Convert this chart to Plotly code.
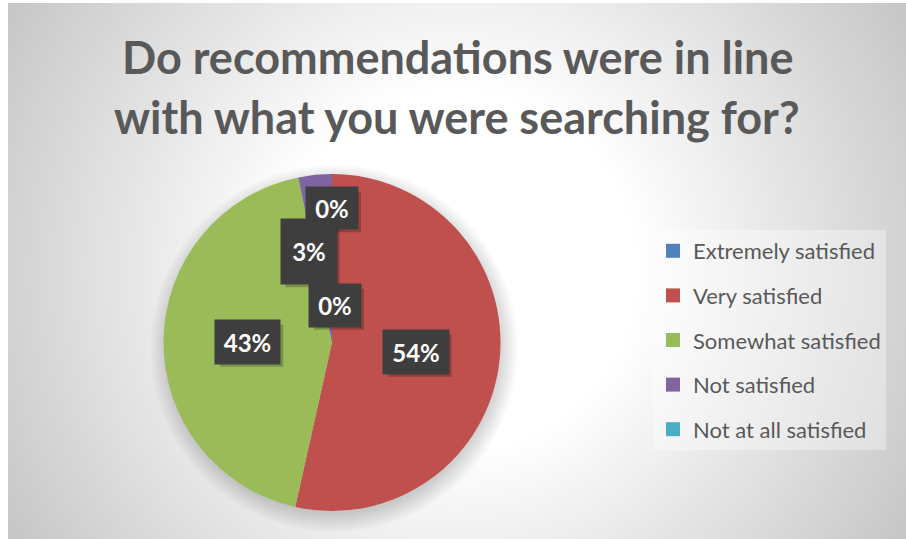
import math
import plotly.graph_objects as go

# ---- data ----
categories = ["Extremely satisfied", "Very satisfied", "Somewhat satisfied",
              "Not satisfied", "Not at all satisfied"]
values = [0, 53.5, 43.3, 3.2, 0]
colors = ["#4F81BD", "#C0504D", "#9BBB59", "#8064A2", "#4BACC6"]
title_lines = ["Do recommendations were in line", "with what you were searching for?"]

# ---- layout constants (pixels) ----
W, H = 906, 539
AX0, AY0 = 8, 3                 # chart-area top-left
PCX, PCY, PR = 332, 342.5, 168.5  # pie centre / radius
# label box styling: (width, height, xshift, yshift)
label_style = [(50, 40, 0, 50), (64, 42, 0, 0), (63, 42, 0, 0),
               (54, 63, -15, 7), (50, 41, 3, -47)]

fig = go.Figure()

# radial gradient background (circle, clipped to chart area)
cxb, cyb = (AX0 + W) / 2, (AY0 + H) / 2
R = 540
fig.add_trace(go.Scatter(
    x=[cxb - R, cxb + R, cxb + R, cxb - R, cxb - R],
    y=[cyb - R, cyb - R, cyb + R, cyb + R, cyb - R],
    fill="toself", mode="none", hoverinfo="skip", showlegend=False,
    fillgradient=dict(type="radial",
                      colorscale=[[0, "#ffffff"], [0.33, "#ffffff"], [1, "#c3c3c3"]]),
))

# soft shadow under the pie
S = PR + 16
sx, sy = PCX + 2, PCY + 6
fig.add_trace(go.Scatter(
    x=[sx - S, sx + S, sx + S, sx - S, sx - S],
    y=[sy - S, sy - S, sy + S, sy + S, sy - S],
    fill="toself", mode="none", hoverinfo="skip", showlegend=False,
    fillgradient=dict(type="radial",
                      colorscale=[[0, "rgba(0,0,0,0.22)"], [(PR - 4) / S, "rgba(0,0,0,0.18)"],
                                  [1, "rgba(0,0,0,0)"]]),
))

# pie
fig.add_trace(go.Pie(
    labels=categories, values=values, sort=False, direction="clockwise",
    rotation=0, textinfo="none", showlegend=False, hoverinfo="label+percent",
    marker=dict(colors=colors, line=dict(width=0)),
    domain=dict(x=[(PCX - PR) / W, (PCX + PR) / W],
                y=[1 - (PCY + PR) / H, 1 - (PCY - PR) / H]),
))

# legend entries
for cat, col in zip(categories, colors):
    fig.add_trace(go.Scatter(
        x=[None], y=[None], mode="markers", name=cat, legendgroup=cat,
        marker=dict(symbol="square", size=14, color=col), showlegend=True,
    ))

# data labels (box shadows as pixel-sized shapes, boxes as annotations)
annotations = []
shapes = []
total = sum(values)
cum = 0.0
for v, (bw, bh, xs, ys) in zip(values, label_style):
    a0 = cum / total * 360
    cum += v
    a1 = cum / total * 360
    mid = math.radians((a0 + a1) / 2)
    px = PCX + 0.5 * PR * math.sin(mid)
    py = PCY - 0.5 * PR * math.cos(mid)
    txt = f"{v / total * 100:.0f}%"
    shapes.append(dict(type="rect", xref="paper", yref="paper",
                       xsizemode="pixel", ysizemode="pixel",
                       xanchor=px / W, yanchor=1 - py / H,
                       x0=xs + 4 - bw / 2, x1=xs + 4 + bw / 2,
                       y0=ys - 4 - bh / 2, y1=ys - 4 + bh / 2,
                       fillcolor="rgba(0,0,0,0.22)", line=dict(width=0), layer="above"))
    annotations.append(dict(text=txt, x=px / W, y=1 - py / H, xref="paper", yref="paper",
                            xanchor="center", yanchor="middle",
                            showarrow=False, width=bw, height=bh, align="center",
                            valign="middle", bgcolor="#3e3e3e",
                            font=dict(family="Lato", size=24, color="#ffffff", weight="bold"),
                            xshift=xs, yshift=ys))

# title lines
title_y = [57, 117]
for line, ty in zip(title_lines, title_y):
    annotations.append(dict(text=line, x=(AX0 + W) / 2 / W, y=1 - ty / H,
                            xref="paper", yref="paper", showarrow=False,
                            xanchor="center", yanchor="middle",
                            font=dict(family="Lato", size=45, color="#595959", weight="bold")))

shapes.append(dict(type="rect", xref="x", yref="y", x0=AX0, x1=W, y0=AY0, y1=H,
                   line=dict(color="#b8b8b8", width=1), fillcolor="rgba(0,0,0,0)",
                   layer="below"))

fig.update_layout(
    width=W, height=H,
    margin=dict(l=0, r=0, t=0, b=0),
    paper_bgcolor="#ffffff", plot_bgcolor="rgba(0,0,0,0)",
    xaxis=dict(domain=[AX0 / W, 1], range=[AX0, W], visible=False, fixedrange=True),
    yaxis=dict(domain=[0, 1 - AY0 / H], range=[H, AY0], visible=False, fixedrange=True),
    legend=dict(x=653 / W, y=1 - 230 / H, xanchor="left", yanchor="top",
                bgcolor="rgba(255,255,255,0.35)", tracegroupgap=13,
                itemsizing="trace",
                font=dict(family="Lato", size=22, color="#595959")),
    annotations=annotations,
    shapes=shapes,
    showlegend=True,
)

fig.write_html("out.html", config={"displayModeBar": False},
               post_script="document.body.style.margin='0';")
